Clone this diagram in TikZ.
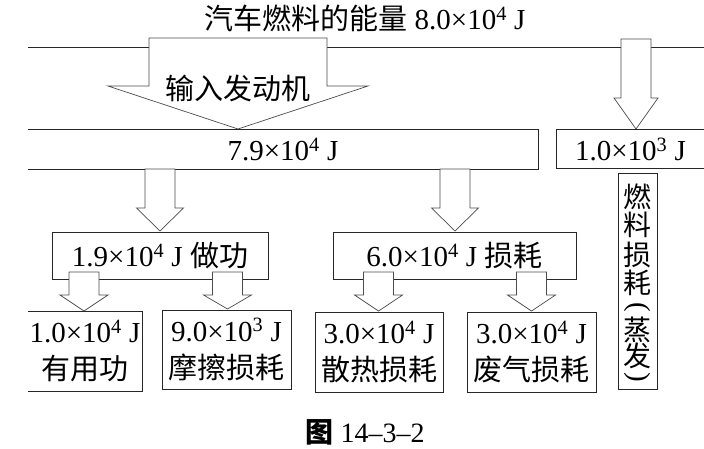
\documentclass[tikz,border=0pt]{standalone}
\usepackage{graphicx}
\usepackage{fontspec}
\setmainfont{Liberation Serif}
\newfontfamily\cjk{Noto Sans CJK SC}
\newcommand\sps[1]{\textsuperscript{#1}}
\newcommand\blockarr[6]{% x, top, head start, tip, shaft half, head half
  \draw[barrow] (#1-#5,#2) -- (#1-#5,#3) -- (#1-#6,#3) -- (#1,#4) -- (#1+#6,#3) -- (#1+#5,#3) -- (#1+#5,#2) -- cycle;}
\tikzset{
  ln/.style={draw=black!85, line width=0.8pt},
  barrow/.style={draw=black!70, fill=white, line width=0.7pt, line join=miter},
  txt/.style={font=\fontsize{29}{37}\selectfont, inner sep=0pt, align=center},
  boxn/.style={txt, minimum width=#1},
  vch/.style={font=\cjk\fontsize{28}{30}\selectfont, inner sep=0pt},
}
\begin{document}
\begin{tikzpicture}[x=1pt,y=-1pt]
\useasboundingbox (0,0) rectangle (704,449);
% title and top line
\node[txt] (T) at (365,18) {{\cjk 汽车燃料的能量} 8.0×10\sps{4} J};
\coordinate (tl) at (28,47);
\coordinate (tr) at (704,47);
\draw[ln] (tl) -- (tr);
% main arrows from the top line
\blockarr{238}{38}{86}{129}{89}{130}
\node[txt] (in) at (238,88) {\cjk 输入发动机};
\blockarr{636}{39}{98}{129}{15}{22}
% box B (open left)
\node[txt, minimum width=510pt, minimum height=39pt] (B) at (283,149.5) {7.9×10\sps{4} J};
\draw[ln] (B.north west) -- (B.north east) -- (B.south east) -- (B.south west);
% box C (open right)
\node[txt, minimum width=147pt, minimum height=38pt] (C) at (630.5,149) {1.0×10\sps{3} J};
\draw[ln] (C.north east) -- (C.north west) -- (C.south west) -- (C.south east);
% arrows B -> D, B -> E
\blockarr{160}{169}{208}{231}{15}{23.5}
\blockarr{455}{169}{208}{231}{15}{23.5}
% box D and E
\node[txt, ln, minimum width=216pt, minimum height=47pt] (D) at (160,255.5) {1.9×10\sps{4} J {\cjk 做功}};
\node[txt, ln, minimum width=243pt, minimum height=47pt] (E) at (454.5,255.5) {6.0×10\sps{4} J {\cjk 损耗}};
% vertical box F
\node[ln, minimum width=39pt, minimum height=216pt, inner sep=0pt] (F) at (637.5,281) {};
\node[vch] (f1) at (637.5,197) {燃};
\node[vch] (f2) at (637.5,225) {料};
\node[vch] (f3) at (637.5,255) {损};
\node[vch] (f4) at (637.5,283) {耗};
\node[inner sep=0pt, font=\fontsize{29}{30}\selectfont] (f5) at (637.5,308) {\rotatebox[origin=c]{-90}{(}};
\node[vch] (f6) at (637.5,330) {蒸};
\node[vch] (f7) at (637.5,356) {发};
\node[inner sep=0pt, font=\fontsize{29}{30}\selectfont] (f8) at (637.5,378) {\rotatebox[origin=c]{-90}{)}};
% bottom boxes
\node[txt, minimum width=114pt, minimum height=79pt] (G) at (85,351.5) {1.0×10\sps{4} J\\{\cjk 有用功}};
\draw[ln] (G.north west) -- (G.north east) -- (G.south east) -- (G.south west);
\node[txt, ln, minimum width=129pt, minimum height=79pt] (H) at (226.5,349.5) {9.0×10\sps{3} J\\{\cjk 摩擦损耗}};
\node[txt, ln, minimum width=128pt, minimum height=80pt] (I) at (379,352) {3.0×10\sps{4} J\\{\cjk 散热损耗}};
\node[txt, ln, minimum width=129pt, minimum height=80pt] (J) at (531.5,352) {3.0×10\sps{4} J\\{\cjk 废气损耗}};
% small arrows
\blockarr{84}{272}{295}{311}{15}{24}
\blockarr{227.5}{272}{295}{309}{15}{24}
\blockarr{378.5}{272}{295}{311}{15}{24}
\blockarr{531.5}{272}{295}{311}{15}{24}
% caption
\node[inner sep=0pt, font=\fontsize{28}{30}\selectfont] (cap) at (365,432) {{\cjk\bfseries 图} 14–3–2};
\end{tikzpicture}
\end{document}
